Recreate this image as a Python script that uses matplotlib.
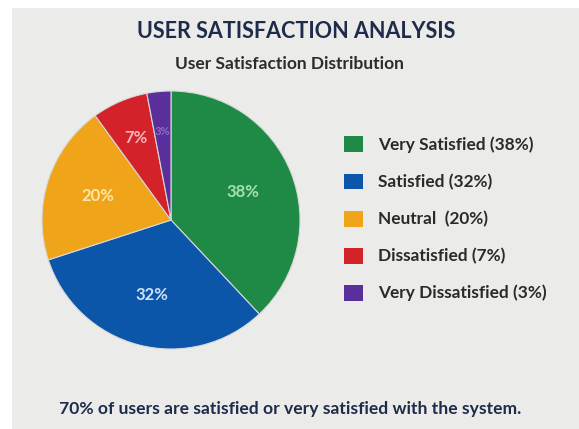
import matplotlib.pyplot as plt
from matplotlib.patches import Patch, Rectangle

# data
categories = ["Very Satisfied", "Satisfied", "Neutral", "Dissatisfied", "Very Dissatisfied"]
shares = [38, 32, 20, 7, 3]
colors = ["#1f8a46", "#0b56a8", "#f0a41a", "#d3222a", "#5a2f9c"]
label_colors = ["#a8e0b0", "#cfe0f5", "#fde7a8", "#f7b6b9", "#8a6cc4"]
legend_labels = ["Very Satisfied (38%)", "Satisfied (32%)", "Neutral  (20%)",
                 "Dissatisfied (7%)", "Very Dissatisfied (3%)"]

plt.rcParams['font.family'] = ['Lato', 'DejaVu Sans']

W, H = 579, 429
fig = plt.figure(figsize=(W / 100, H / 100), dpi=100, facecolor="white")

# gray panel
fig.patches.append(Rectangle((12 / W, 0), 1, (H - 8) / H, transform=fig.transFigure,
                             facecolor="#ebebea", edgecolor="none", zorder=-5))

# pie
cx, cy, r = 171, 220, 129
ax = fig.add_axes([(cx - r) / W, (H - cy - r) / H, 2 * r / W, 2 * r / H])
ax.patch.set_visible(False)
wedges, texts, autotexts = ax.pie(shares, colors=colors, startangle=90, counterclock=False,
                                  autopct="%d%%", pctdistance=0.6,
                                  wedgeprops=dict(edgecolor="#d8d8d8", linewidth=0.8))
for t, c in zip(autotexts, label_colors):
    t.set_color(c)
    t.set_fontsize(12)
    t.set_fontweight("bold")
# small slices: push labels outward
for t in autotexts[3:]:
    x, y = t.get_position()
    t.set_position((x * 1.15, y * 1.15))
autotexts[-1].set_fontsize(8)
ax.set_xlim(-1, 1)
ax.set_ylim(-1, 1)
ax.set_aspect("equal")

# titles
fig.text(296.5 / W, 1 - 32 / H, "USER SATISFACTION ANALYSIS", ha="center", va="center",
         fontsize=15.5, fontweight="bold", color="#1e2b4a")
fig.text(289 / W, 1 - 64 / H, "User Satisfaction Distribution", ha="center", va="center",
         fontsize=12.5, fontweight="bold", color="#2c2c2c")

# legend
handles = [Patch(facecolor=c, edgecolor="none") for c in colors]
fs = 12.4
fig.legend(handles, legend_labels, loc="upper left", bbox_to_anchor=(329 / W, 1 - 121 / H),
           frameon=False, handlelength=1.05, handleheight=1.05, handletextpad=0.9,
           labelspacing=1.17, prop=dict(size=fs, weight="bold"), labelcolor="#2a2a2a")

# footer
fig.text(290.5 / W, 1 - 409 / H, "70% of users are satisfied or very satisfied with the system.",
         ha="center", va="center", fontsize=12.6, fontweight="bold", color="#1e2b4a")

plt.savefig("out.png", dpi=100)
